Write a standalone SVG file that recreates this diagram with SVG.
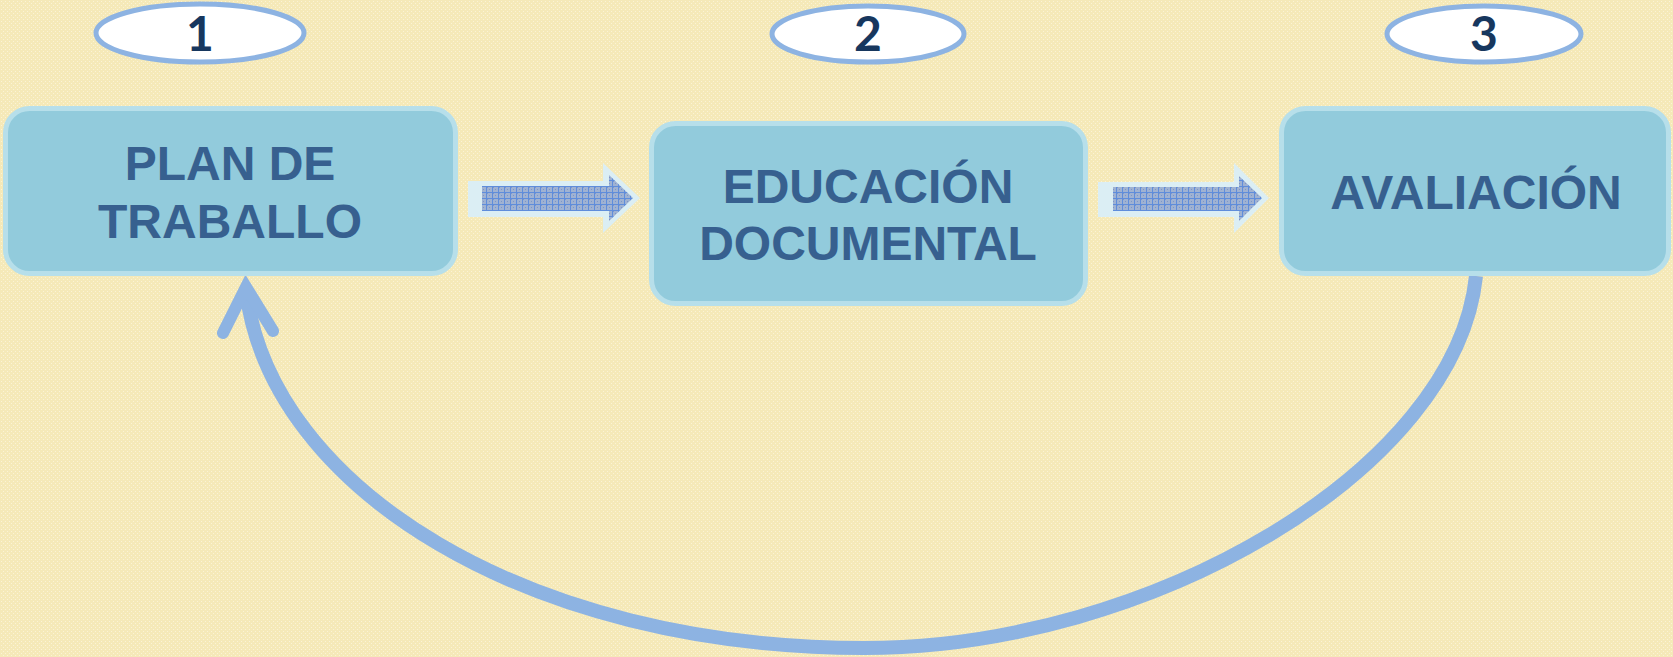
<svg xmlns="http://www.w3.org/2000/svg" width="1673" height="657" viewBox="0 0 1673 657">
<defs>
<pattern id="bgtex" width="4" height="4" patternUnits="userSpaceOnUse">
<rect width="4" height="4" fill="#f5e9b8"/>
<rect x="1" y="1" width="1" height="1" fill="#fbf3d6"/>
<rect x="3" y="3" width="1" height="1" fill="#fbf3d6"/>
</pattern>
<pattern id="grid" width="6" height="6" patternUnits="userSpaceOnUse">
<rect width="6" height="6" fill="#9fb2d2"/>
<rect x="1" y="1" width="1" height="1" fill="#7d95c8"/>
<rect x="3" y="3" width="1" height="1" fill="#7d95c8"/>
<rect x="0" y="0" width="6" height="1" fill="#5f8ddb"/>
<rect x="0" y="0" width="1" height="6" fill="#5f8ddb"/>
</pattern>
<style>
.box{fill:#92cbdc;stroke:#b7dfea;stroke-width:5}
.lbl{font-family:"Liberation Sans",Arial,sans-serif;font-weight:bold;font-size:48px;fill:#37608f;text-anchor:middle}
.ov{fill:#ffffff;stroke:#8db3e2;stroke-width:5}
.num{font-family:Lato,"Liberation Sans",sans-serif;font-weight:bold;font-size:48px;fill:#17375e;text-anchor:middle}
.outer{fill:#dbeef4}
.inner{fill:url(#grid)}
.curve{fill:none;stroke:#8db3e2;stroke-width:14}
.head{fill:none;stroke:#8db3e2;stroke-width:12;stroke-linecap:round;stroke-linejoin:miter;stroke-miterlimit:10}
</style>
</defs>
<rect width="1673" height="657" fill="url(#bgtex)"/>

<g id="connectors">
<g id="arrow-1-2">
<polygon class="outer" points="468,181 603,181 603,163 640,198 603,233 603,217 468,217"/>
<polygon class="inner" points="482,186 609,186 609,175 633,198 609,221 609,211 482,211"/>
</g>
<g id="arrow-2-3">
<polygon class="outer" points="1098,182 1234,182 1234,163 1269,198 1234,233 1234,217 1098,217"/>
<polygon class="inner" points="1113,187 1239,187 1239,176 1262,198 1239,221 1239,211 1113,211"/>
</g>
<g id="arrow-3-1">
<path class="curve" d="M1476,276 C1456,470 1150,648 864,648 C530,648 270,490 246,290"/>
<path class="head" d="M223,333 L246,287 L273,331"/>
</g>
</g>

<g id="node-1">
<rect class="box" x="5.5" y="108.5" width="450" height="165" rx="24"/>
<text class="lbl" x="230" y="180">PLAN DE</text>
<text class="lbl" x="230" y="238">TRABALLO</text>
</g>
<g id="node-2">
<rect class="box" x="651.5" y="123.5" width="434" height="180" rx="24"/>
<text class="lbl" x="868" y="203">EDUCACIÓN</text>
<text class="lbl" x="868" y="260">DOCUMENTAL</text>
</g>
<g id="node-3">
<rect class="box" x="1281.5" y="108.5" width="387" height="165" rx="24"/>
<text class="lbl" x="1476" y="209">AVALIACIÓN</text>
</g>

<g id="badge-1">
<ellipse class="ov" cx="200" cy="33" rx="104" ry="29"/>
<text class="num" x="200" y="51">1</text>
</g>
<g id="badge-2">
<ellipse class="ov" cx="868" cy="34" rx="96" ry="28"/>
<text class="num" x="868" y="51">2</text>
</g>
<g id="badge-3">
<ellipse class="ov" cx="1484" cy="34" rx="97" ry="28"/>
<text class="num" x="1484" y="51">3</text>
</g>
</svg>
